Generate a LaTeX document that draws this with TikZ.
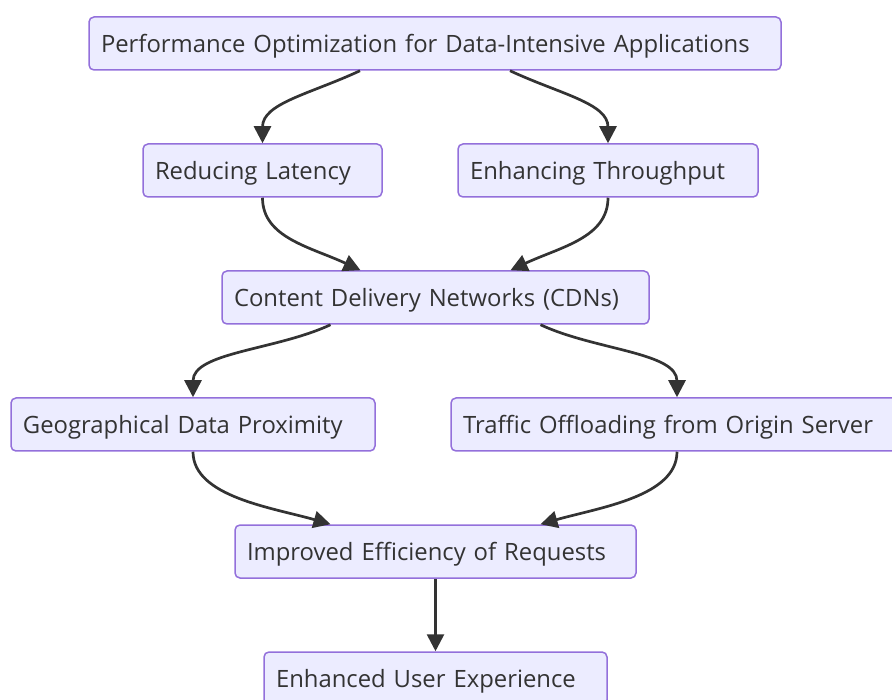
\documentclass[tikz,border=0pt]{standalone}
\usepackage{fontspec}
\setmainfont{Open Sans}
\usetikzlibrary{arrows.meta}
\definecolor{boxfill}{HTML}{ECECFF}
\definecolor{boxline}{HTML}{9370DB}
\definecolor{ink}{HTML}{333333}
\begin{document}
\begin{tikzpicture}[x=1pt,y=1pt,
  box/.style={draw=boxline, fill=boxfill, line width=1.5pt, rounded corners=5pt,
    minimum height=53pt, inner xsep=12pt, inner ysep=0pt, align=left, text=ink,
    text height=20pt, text depth=2.5pt,
    font=\fontsize{23.85}{28}\selectfont, anchor=center},
  link/.style={draw=ink, line width=2.7pt, -{Triangle[length=17pt,width=17pt]}}]
\useasboundingbox (0,0) rectangle (892,-700);
\node[box,text width=668pt] (top) at (435,-43.5) {Performance Optimization for Data-Intensive Applications};
\node[box,text width=215pt] (red) at (262.5,-170.5) {Reducing Latency};
\node[box,text width=276pt] (enh) at (608,-170.5) {Enhancing Throughput};
\node[box,text width=403pt] (cdn) at (435.5,-297.5) {Content Delivery Networks (CDNs)};
\node[box,text width=340pt] (geo) at (193,-424.5) {Geographical Data Proximity};
\node[box,text width=428pt] (tra) at (677,-424.5) {Traffic Offloading from Origin Server};
\node[box,text width=377pt] (imp) at (435.5,-551.5) {Improved Efficiency of Requests};
\node[box,text width=319pt] (ue) at (435.5,-678.5) {Enhanced User Experience};

\draw[link] ([xshift=-75pt]top.south) .. controls +(205:55) and +(90:40) .. (red.north);
\draw[link] ([xshift=75pt]top.south) .. controls +(-25:55) and +(90:40) .. (enh.north);
\draw[link] (red.south) .. controls +(-90:40) and +(155:55) .. ([xshift=-75pt]cdn.north);
\draw[link] (enh.south) .. controls +(-90:40) and +(25:55) .. ([xshift=75pt]cdn.north);
\draw[link] ([xshift=-105pt]cdn.south) .. controls +(205:60) and +(90:45) .. (geo.north);
\draw[link] ([xshift=105pt]cdn.south) .. controls +(-25:60) and +(90:45) .. (tra.north);
\draw[link] (geo.south) .. controls +(-90:45) and +(164:60) .. ([xshift=-105pt]imp.north);
\draw[link] (tra.south) .. controls +(-90:45) and +(16:60) .. ([xshift=105pt]imp.north);
\draw[link] (imp.south) -- (ue.north);
\end{tikzpicture}
\end{document}
